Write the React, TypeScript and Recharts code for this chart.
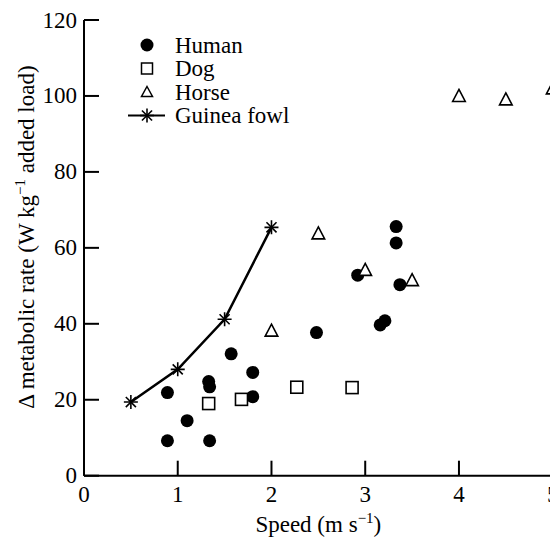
import React from 'react';
import { ComposedChart, Scatter, Line, XAxis, YAxis, Label, Customized } from 'recharts';

const humanSpeed = [0.89, 0.89, 1.10, 1.34, 1.33, 1.34, 1.57, 1.80, 1.80, 2.48, 2.92, 3.16, 3.21, 3.33, 3.33, 3.37];
const humanRate = [21.9, 9.2, 14.5, 9.2, 24.8, 23.4, 32.1, 27.2, 20.8, 37.7, 52.8, 39.7, 40.8, 65.6, 61.3, 50.3];
const dogSpeed = [1.33, 1.68, 2.27, 2.86];
const dogRate = [19.0, 20.1, 23.3, 23.2];
const horseSpeed = [2.0, 2.5, 3.0, 3.5, 4.0, 4.5, 5.0];
const horseRate = [38.2, 63.8, 54.2, 51.5, 100.0, 99.1, 102.0];
const guineaSpeed = [0.5, 1.0, 1.5, 2.0];
const guineaRate = [19.4, 28.0, 41.2, 65.4];

const xTicks = [0, 1, 2, 3, 4, 5];
const yTicks = [0, 20, 40, 60, 80, 100, 120];
const seriesNames = ['Human', 'Dog', 'Horse', 'Guinea fowl'];

const zip = (xs: number[], ys: number[]) => xs.map((x, i) => ({ x, y: ys[i] }));
const humanData = zip(humanSpeed, humanRate);
const dogData = zip(dogSpeed, dogRate);
const horseData = zip(horseSpeed, horseRate);
const guineaData = zip(guineaSpeed, guineaRate);

const FS = 23;

const circleEl = (cx: number, cy: number, key?: string) => <circle key={key} cx={cx} cy={cy} r={6.5} fill="#000" />;
const starEl = (cx: number, cy: number, key?: string) => {
  const r = 7;
  const d = r * 0.72;
  return (
    <g key={key} stroke="#000" strokeWidth={1.6}>
      <line x1={cx} y1={cy - r} x2={cx} y2={cy + r} />
      <line x1={cx - r} y1={cy} x2={cx + r} y2={cy} />
      <line x1={cx - d} y1={cy - d} x2={cx + d} y2={cy + d} />
      <line x1={cx - d} y1={cy + d} x2={cx + d} y2={cy - d} />
    </g>
  );
};

const CircleShape = (p: any) => circleEl(p.cx, p.cy);
const SquareShape = (p: any) => (
  <rect x={p.cx - 6} y={p.cy - 6} width={12} height={12} fill="#fff" stroke="#000" strokeWidth={1.6} />
);
const TriangleShape = (p: any) => (
  <polygon
    points={`${p.cx},${p.cy - 6.5} ${p.cx + 6.3},${p.cy + 5.5} ${p.cx - 6.3},${p.cy + 5.5}`}
    fill="#fff"
    stroke="#000"
    strokeWidth={1.6}
  />
);
const StarDot = (p: any) => starEl(p.cx, p.cy, `s-${p.index}`);

const renderXTick = (p: any) => (
  <g>
    <line x1={p.x} x2={p.x} y1={p.y} y2={p.y - 15} stroke="#000" strokeWidth={2} />
    <text x={p.x} y={p.y + 26.5} textAnchor="middle" fontFamily="Liberation Serif" fontSize={FS} fill="#000">
      {p.payload.value}
    </text>
  </g>
);
const renderYTick = (p: any) => (
  <g>
    <line x1={p.x} x2={p.x + 15} y1={p.y} y2={p.y} stroke="#000" strokeWidth={2} />
    <text x={p.x - 7} y={p.y + 7.5} textAnchor="end" fontFamily="Liberation Serif" fontSize={FS} fill="#000">
      {p.payload.value}
    </text>
  </g>
);

const renderXLabel = (p: any) => {
  const vb = p.viewBox || { x: 76, width: 468.7 };
  const cx = vb.x + vb.width / 2;
  return (
    <text x={cx} y={524} textAnchor="middle" fontFamily="Liberation Serif" fontSize={FS} fill="#000">
      Speed (m s
      <tspan dy={-9} fontSize={15}>−1</tspan>
      <tspan dy={9}>)</tspan>
    </text>
  );
};
const renderYLabel = () => {
  const cx = 26;
  const cy = 229;
  return (
    <text
      x={cx}
      y={cy}
      textAnchor="middle"
      transform={`rotate(-90, ${cx}, ${cy})`}
      fontFamily="Liberation Serif"
      fontSize={FS}
      fill="#000"
    >
      Δ metabolic rate (W kg
      <tspan dy={-9} fontSize={15}>−1</tspan>
      <tspan dy={9}> added load)</tspan>
    </text>
  );
};

const LegendLayer = () => {
  const rows = [37, 60.5, 84, 107.5];
  const mx = 139;
  const tx = 167;
  return (
    <g>
      {circleEl(mx, rows[0])}
      <rect x={mx - 5.5} y={rows[1] - 5.5} width={11} height={11} fill="#fff" stroke="#000" strokeWidth={1.5} />
      <polygon
        points={`${mx},${rows[2] - 5.5} ${mx + 5.5},${rows[2] + 4.5} ${mx - 5.5},${rows[2] + 4.5}`}
        fill="#fff"
        stroke="#000"
        strokeWidth={1.5}
      />
      <line x1={mx - 19} x2={mx + 18} y1={rows[3]} y2={rows[3]} stroke="#000" strokeWidth={2.2} />
      {starEl(mx, rows[3])}
      {seriesNames.map((n, i) => (
        <text key={n} x={tx} y={rows[i] + 7.5} fontFamily="Liberation Serif" fontSize={FS} fill="#000">
          {n}
        </text>
      ))}
    </g>
  );
};

export default function App() {
  return (
    <div>
      <ComposedChart width={550} height={529} margin={{ top: 12, right: 5.3, bottom: 0, left: 0 }}>
        <XAxis
          type="number"
          dataKey="x"
          domain={[0, 5]}
          ticks={xTicks}
          interval={0}
          height={61.3}
          tickSize={0}
          tickMargin={0}
          tickLine={false}
          tick={renderXTick}
          axisLine={{ stroke: '#000', strokeWidth: 2 }}
          allowDataOverflow
        >
          <Label content={renderXLabel} />
        </XAxis>
        <YAxis
          type="number"
          dataKey="y"
          domain={[0, 120]}
          ticks={yTicks}
          interval={0}
          width={76}
          tickSize={0}
          tickMargin={0}
          tickLine={false}
          tick={renderYTick}
          axisLine={{ stroke: '#000', strokeWidth: 2 }}
          allowDataOverflow
        >
          <Label content={renderYLabel} />
        </YAxis>
        <Scatter name="Human" data={humanData} dataKey="y" shape={CircleShape} isAnimationActive={false} />
        <Scatter name="Dog" data={dogData} dataKey="y" shape={SquareShape} isAnimationActive={false} />
        <Scatter name="Horse" data={horseData} dataKey="y" shape={TriangleShape} isAnimationActive={false} />
        <Line
          name="Guinea fowl"
          data={guineaData}
          dataKey="y"
          type="linear"
          stroke="#000"
          strokeWidth={2.5}
          dot={StarDot}
          activeDot={false}
          isAnimationActive={false}
        />
        <Customized component={LegendLayer} />
      </ComposedChart>
    </div>
  );
}
